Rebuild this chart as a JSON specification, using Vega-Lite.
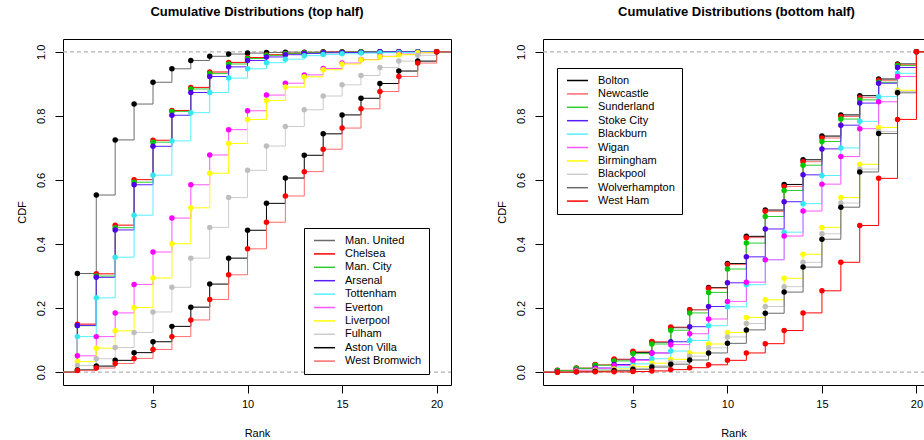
{
"$schema":"https://vega.github.io/schema/vega-lite/v6.json",
"background":"white",
"padding":{"left":15,"top":5,"right":0,"bottom":0},
"spacing":42,
"config":{
 "font":"Liberation Sans",
 "view":{"stroke":"#000","strokeWidth":1},
 "axis":{"grid":false,"domain":false,"tickColor":"#000","tickSize":8,"labelFontSize":11,"titleFontSize":11,"labelColor":"#000","titleColor":"#000","titleFontWeight":"normal","labelFont":"Liberation Sans","titleFont":"Liberation Sans"},
 "title":{"fontSize":13,"fontWeight":"bold","color":"#000","font":"Liberation Sans","offset":20}
},
"resolve":{"scale":{"color":"independent","fill":"independent","x":"independent","y":"independent"},"legend":{"color":"independent"}},
"datasets":{
"top":[
{"team":"Man. United","rank":0,"cdf":0},{"team":"Man. United","rank":1,"cdf":0.308},{"team":"Man. United","rank":2,"cdf":0.553},{"team":"Man. United","rank":3,"cdf":0.725},{"team":"Man. United","rank":4,"cdf":0.837},{"team":"Man. United","rank":5,"cdf":0.905},{"team":"Man. United","rank":6,"cdf":0.947},{"team":"Man. United","rank":7,"cdf":0.973},{"team":"Man. United","rank":8,"cdf":0.986},{"team":"Man. United","rank":9,"cdf":0.993},{"team":"Man. United","rank":10,"cdf":0.996},{"team":"Man. United","rank":11,"cdf":0.998},{"team":"Man. United","rank":12,"cdf":0.999},{"team":"Man. United","rank":13,"cdf":0.999},{"team":"Man. United","rank":14,"cdf":1},{"team":"Man. United","rank":15,"cdf":1},{"team":"Man. United","rank":16,"cdf":1},{"team":"Man. United","rank":17,"cdf":1},{"team":"Man. United","rank":18,"cdf":1},{"team":"Man. United","rank":19,"cdf":1},{"team":"Man. United","rank":20,"cdf":1},{"team":"Man. United","rank":21,"cdf":1},
{"team":"Chelsea","rank":0,"cdf":0},{"team":"Chelsea","rank":1,"cdf":0.150},{"team":"Chelsea","rank":2,"cdf":0.307},{"team":"Chelsea","rank":3,"cdf":0.459},{"team":"Chelsea","rank":4,"cdf":0.601},{"team":"Chelsea","rank":5,"cdf":0.724},{"team":"Chelsea","rank":6,"cdf":0.817},{"team":"Chelsea","rank":7,"cdf":0.889},{"team":"Chelsea","rank":8,"cdf":0.937},{"team":"Chelsea","rank":9,"cdf":0.967},{"team":"Chelsea","rank":10,"cdf":0.982},{"team":"Chelsea","rank":11,"cdf":0.991},{"team":"Chelsea","rank":12,"cdf":0.995},{"team":"Chelsea","rank":13,"cdf":0.998},{"team":"Chelsea","rank":14,"cdf":0.999},{"team":"Chelsea","rank":15,"cdf":0.999},{"team":"Chelsea","rank":16,"cdf":1},{"team":"Chelsea","rank":17,"cdf":1},{"team":"Chelsea","rank":18,"cdf":1},{"team":"Chelsea","rank":19,"cdf":1},{"team":"Chelsea","rank":20,"cdf":1},{"team":"Chelsea","rank":21,"cdf":1},
{"team":"Man. City","rank":0,"cdf":0},{"team":"Man. City","rank":1,"cdf":0.145},{"team":"Man. City","rank":2,"cdf":0.300},{"team":"Man. City","rank":3,"cdf":0.451},{"team":"Man. City","rank":4,"cdf":0.593},{"team":"Man. City","rank":5,"cdf":0.718},{"team":"Man. City","rank":6,"cdf":0.814},{"team":"Man. City","rank":7,"cdf":0.884},{"team":"Man. City","rank":8,"cdf":0.932},{"team":"Man. City","rank":9,"cdf":0.962},{"team":"Man. City","rank":10,"cdf":0.979},{"team":"Man. City","rank":11,"cdf":0.989},{"team":"Man. City","rank":12,"cdf":0.994},{"team":"Man. City","rank":13,"cdf":0.997},{"team":"Man. City","rank":14,"cdf":0.998},{"team":"Man. City","rank":15,"cdf":0.999},{"team":"Man. City","rank":16,"cdf":1},{"team":"Man. City","rank":17,"cdf":1},{"team":"Man. City","rank":18,"cdf":1},{"team":"Man. City","rank":19,"cdf":1},{"team":"Man. City","rank":20,"cdf":1},{"team":"Man. City","rank":21,"cdf":1},
{"team":"Arsenal","rank":0,"cdf":0},{"team":"Arsenal","rank":1,"cdf":0.146},{"team":"Arsenal","rank":2,"cdf":0.296},{"team":"Arsenal","rank":3,"cdf":0.444},{"team":"Arsenal","rank":4,"cdf":0.585},{"team":"Arsenal","rank":5,"cdf":0.705},{"team":"Arsenal","rank":6,"cdf":0.802},{"team":"Arsenal","rank":7,"cdf":0.873},{"team":"Arsenal","rank":8,"cdf":0.923},{"team":"Arsenal","rank":9,"cdf":0.953},{"team":"Arsenal","rank":10,"cdf":0.973},{"team":"Arsenal","rank":11,"cdf":0.984},{"team":"Arsenal","rank":12,"cdf":0.991},{"team":"Arsenal","rank":13,"cdf":0.995},{"team":"Arsenal","rank":14,"cdf":0.997},{"team":"Arsenal","rank":15,"cdf":0.998},{"team":"Arsenal","rank":16,"cdf":0.999},{"team":"Arsenal","rank":17,"cdf":1},{"team":"Arsenal","rank":18,"cdf":1},{"team":"Arsenal","rank":19,"cdf":1},{"team":"Arsenal","rank":20,"cdf":1},{"team":"Arsenal","rank":21,"cdf":1},
{"team":"Tottenham","rank":0,"cdf":0},{"team":"Tottenham","rank":1,"cdf":0.111},{"team":"Tottenham","rank":2,"cdf":0.232},{"team":"Tottenham","rank":3,"cdf":0.359},{"team":"Tottenham","rank":4,"cdf":0.490},{"team":"Tottenham","rank":5,"cdf":0.615},{"team":"Tottenham","rank":6,"cdf":0.722},{"team":"Tottenham","rank":7,"cdf":0.810},{"team":"Tottenham","rank":8,"cdf":0.873},{"team":"Tottenham","rank":9,"cdf":0.918},{"team":"Tottenham","rank":10,"cdf":0.947},{"team":"Tottenham","rank":11,"cdf":0.966},{"team":"Tottenham","rank":12,"cdf":0.977},{"team":"Tottenham","rank":13,"cdf":0.988},{"team":"Tottenham","rank":14,"cdf":0.992},{"team":"Tottenham","rank":15,"cdf":0.994},{"team":"Tottenham","rank":16,"cdf":0.996},{"team":"Tottenham","rank":17,"cdf":0.997},{"team":"Tottenham","rank":18,"cdf":0.998},{"team":"Tottenham","rank":19,"cdf":0.999},{"team":"Tottenham","rank":20,"cdf":1},{"team":"Tottenham","rank":21,"cdf":1},
{"team":"Everton","rank":0,"cdf":0},{"team":"Everton","rank":1,"cdf":0.051},{"team":"Everton","rank":2,"cdf":0.111},{"team":"Everton","rank":3,"cdf":0.185},{"team":"Everton","rank":4,"cdf":0.274},{"team":"Everton","rank":5,"cdf":0.375},{"team":"Everton","rank":6,"cdf":0.481},{"team":"Everton","rank":7,"cdf":0.585},{"team":"Everton","rank":8,"cdf":0.678},{"team":"Everton","rank":9,"cdf":0.757},{"team":"Everton","rank":10,"cdf":0.816},{"team":"Everton","rank":11,"cdf":0.865},{"team":"Everton","rank":12,"cdf":0.902},{"team":"Everton","rank":13,"cdf":0.928},{"team":"Everton","rank":14,"cdf":0.948},{"team":"Everton","rank":15,"cdf":0.965},{"team":"Everton","rank":16,"cdf":0.976},{"team":"Everton","rank":17,"cdf":0.986},{"team":"Everton","rank":18,"cdf":0.993},{"team":"Everton","rank":19,"cdf":0.997},{"team":"Everton","rank":20,"cdf":1},{"team":"Everton","rank":21,"cdf":1},
{"team":"Liverpool","rank":0,"cdf":0},{"team":"Liverpool","rank":1,"cdf":0.033},{"team":"Liverpool","rank":2,"cdf":0.075},{"team":"Liverpool","rank":3,"cdf":0.129},{"team":"Liverpool","rank":4,"cdf":0.202},{"team":"Liverpool","rank":5,"cdf":0.294},{"team":"Liverpool","rank":6,"cdf":0.401},{"team":"Liverpool","rank":7,"cdf":0.513},{"team":"Liverpool","rank":8,"cdf":0.621},{"team":"Liverpool","rank":9,"cdf":0.714},{"team":"Liverpool","rank":10,"cdf":0.789},{"team":"Liverpool","rank":11,"cdf":0.848},{"team":"Liverpool","rank":12,"cdf":0.890},{"team":"Liverpool","rank":13,"cdf":0.922},{"team":"Liverpool","rank":14,"cdf":0.944},{"team":"Liverpool","rank":15,"cdf":0.962},{"team":"Liverpool","rank":16,"cdf":0.975},{"team":"Liverpool","rank":17,"cdf":0.985},{"team":"Liverpool","rank":18,"cdf":0.991},{"team":"Liverpool","rank":19,"cdf":0.997},{"team":"Liverpool","rank":20,"cdf":1},{"team":"Liverpool","rank":21,"cdf":1},
{"team":"Fulham","rank":0,"cdf":0},{"team":"Fulham","rank":1,"cdf":0.021},{"team":"Fulham","rank":2,"cdf":0.042},{"team":"Fulham","rank":3,"cdf":0.077},{"team":"Fulham","rank":4,"cdf":0.124},{"team":"Fulham","rank":5,"cdf":0.188},{"team":"Fulham","rank":6,"cdf":0.265},{"team":"Fulham","rank":7,"cdf":0.356},{"team":"Fulham","rank":8,"cdf":0.452},{"team":"Fulham","rank":9,"cdf":0.545},{"team":"Fulham","rank":10,"cdf":0.630},{"team":"Fulham","rank":11,"cdf":0.706},{"team":"Fulham","rank":12,"cdf":0.767},{"team":"Fulham","rank":13,"cdf":0.819},{"team":"Fulham","rank":14,"cdf":0.862},{"team":"Fulham","rank":15,"cdf":0.897},{"team":"Fulham","rank":16,"cdf":0.926},{"team":"Fulham","rank":17,"cdf":0.951},{"team":"Fulham","rank":18,"cdf":0.971},{"team":"Fulham","rank":19,"cdf":0.989},{"team":"Fulham","rank":20,"cdf":1},{"team":"Fulham","rank":21,"cdf":1},
{"team":"Aston Villa","rank":0,"cdf":0},{"team":"Aston Villa","rank":1,"cdf":0.007},{"team":"Aston Villa","rank":2,"cdf":0.019},{"team":"Aston Villa","rank":3,"cdf":0.037},{"team":"Aston Villa","rank":4,"cdf":0.061},{"team":"Aston Villa","rank":5,"cdf":0.095},{"team":"Aston Villa","rank":6,"cdf":0.143},{"team":"Aston Villa","rank":7,"cdf":0.203},{"team":"Aston Villa","rank":8,"cdf":0.275},{"team":"Aston Villa","rank":9,"cdf":0.356},{"team":"Aston Villa","rank":10,"cdf":0.443},{"team":"Aston Villa","rank":11,"cdf":0.527},{"team":"Aston Villa","rank":12,"cdf":0.606},{"team":"Aston Villa","rank":13,"cdf":0.677},{"team":"Aston Villa","rank":14,"cdf":0.744},{"team":"Aston Villa","rank":15,"cdf":0.803},{"team":"Aston Villa","rank":16,"cdf":0.855},{"team":"Aston Villa","rank":17,"cdf":0.901},{"team":"Aston Villa","rank":18,"cdf":0.940},{"team":"Aston Villa","rank":19,"cdf":0.971},{"team":"Aston Villa","rank":20,"cdf":1},{"team":"Aston Villa","rank":21,"cdf":1},
{"team":"West Bromwich","rank":0,"cdf":0},{"team":"West Bromwich","rank":1,"cdf":0.005},{"team":"West Bromwich","rank":2,"cdf":0.013},{"team":"West Bromwich","rank":3,"cdf":0.027},{"team":"West Bromwich","rank":4,"cdf":0.043},{"team":"West Bromwich","rank":5,"cdf":0.071},{"team":"West Bromwich","rank":6,"cdf":0.111},{"team":"West Bromwich","rank":7,"cdf":0.163},{"team":"West Bromwich","rank":8,"cdf":0.227},{"team":"West Bromwich","rank":9,"cdf":0.304},{"team":"West Bromwich","rank":10,"cdf":0.385},{"team":"West Bromwich","rank":11,"cdf":0.468},{"team":"West Bromwich","rank":12,"cdf":0.550},{"team":"West Bromwich","rank":13,"cdf":0.626},{"team":"West Bromwich","rank":14,"cdf":0.696},{"team":"West Bromwich","rank":15,"cdf":0.762},{"team":"West Bromwich","rank":16,"cdf":0.822},{"team":"West Bromwich","rank":17,"cdf":0.876},{"team":"West Bromwich","rank":18,"cdf":0.923},{"team":"West Bromwich","rank":19,"cdf":0.965},{"team":"West Bromwich","rank":20,"cdf":1},{"team":"West Bromwich","rank":21,"cdf":1}
],
"bottom":[
{"team":"Bolton","rank":0,"cdf":0},{"team":"Bolton","rank":1,"cdf":0.005},{"team":"Bolton","rank":2,"cdf":0.012},{"team":"Bolton","rank":3,"cdf":0.023},{"team":"Bolton","rank":4,"cdf":0.039},{"team":"Bolton","rank":5,"cdf":0.062},{"team":"Bolton","rank":6,"cdf":0.094},{"team":"Bolton","rank":7,"cdf":0.139},{"team":"Bolton","rank":8,"cdf":0.195},{"team":"Bolton","rank":9,"cdf":0.264},{"team":"Bolton","rank":10,"cdf":0.339},{"team":"Bolton","rank":11,"cdf":0.424},{"team":"Bolton","rank":12,"cdf":0.506},{"team":"Bolton","rank":13,"cdf":0.586},{"team":"Bolton","rank":14,"cdf":0.663},{"team":"Bolton","rank":15,"cdf":0.737},{"team":"Bolton","rank":16,"cdf":0.803},{"team":"Bolton","rank":17,"cdf":0.863},{"team":"Bolton","rank":18,"cdf":0.915},{"team":"Bolton","rank":19,"cdf":0.962},{"team":"Bolton","rank":20,"cdf":1},{"team":"Bolton","rank":21,"cdf":1},
{"team":"Newcastle","rank":0,"cdf":0},{"team":"Newcastle","rank":1,"cdf":0.006},{"team":"Newcastle","rank":2,"cdf":0.013},{"team":"Newcastle","rank":3,"cdf":0.024},{"team":"Newcastle","rank":4,"cdf":0.041},{"team":"Newcastle","rank":5,"cdf":0.065},{"team":"Newcastle","rank":6,"cdf":0.096},{"team":"Newcastle","rank":7,"cdf":0.141},{"team":"Newcastle","rank":8,"cdf":0.195},{"team":"Newcastle","rank":9,"cdf":0.262},{"team":"Newcastle","rank":10,"cdf":0.336},{"team":"Newcastle","rank":11,"cdf":0.420},{"team":"Newcastle","rank":12,"cdf":0.502},{"team":"Newcastle","rank":13,"cdf":0.580},{"team":"Newcastle","rank":14,"cdf":0.657},{"team":"Newcastle","rank":15,"cdf":0.731},{"team":"Newcastle","rank":16,"cdf":0.798},{"team":"Newcastle","rank":17,"cdf":0.857},{"team":"Newcastle","rank":18,"cdf":0.911},{"team":"Newcastle","rank":19,"cdf":0.960},{"team":"Newcastle","rank":20,"cdf":1},{"team":"Newcastle","rank":21,"cdf":1},
{"team":"Sunderland","rank":0,"cdf":0},{"team":"Sunderland","rank":1,"cdf":0.005},{"team":"Sunderland","rank":2,"cdf":0.012},{"team":"Sunderland","rank":3,"cdf":0.022},{"team":"Sunderland","rank":4,"cdf":0.035},{"team":"Sunderland","rank":5,"cdf":0.058},{"team":"Sunderland","rank":6,"cdf":0.088},{"team":"Sunderland","rank":7,"cdf":0.131},{"team":"Sunderland","rank":8,"cdf":0.185},{"team":"Sunderland","rank":9,"cdf":0.249},{"team":"Sunderland","rank":10,"cdf":0.322},{"team":"Sunderland","rank":11,"cdf":0.403},{"team":"Sunderland","rank":12,"cdf":0.486},{"team":"Sunderland","rank":13,"cdf":0.567},{"team":"Sunderland","rank":14,"cdf":0.646},{"team":"Sunderland","rank":15,"cdf":0.720},{"team":"Sunderland","rank":16,"cdf":0.790},{"team":"Sunderland","rank":17,"cdf":0.850},{"team":"Sunderland","rank":18,"cdf":0.905},{"team":"Sunderland","rank":19,"cdf":0.957},{"team":"Sunderland","rank":20,"cdf":1},{"team":"Sunderland","rank":21,"cdf":1},
{"team":"Stoke City","rank":0,"cdf":0},{"team":"Stoke City","rank":1,"cdf":0.002},{"team":"Stoke City","rank":2,"cdf":0.006},{"team":"Stoke City","rank":3,"cdf":0.013},{"team":"Stoke City","rank":4,"cdf":0.024},{"team":"Stoke City","rank":5,"cdf":0.039},{"team":"Stoke City","rank":6,"cdf":0.060},{"team":"Stoke City","rank":7,"cdf":0.095},{"team":"Stoke City","rank":8,"cdf":0.142},{"team":"Stoke City","rank":9,"cdf":0.205},{"team":"Stoke City","rank":10,"cdf":0.279},{"team":"Stoke City","rank":11,"cdf":0.360},{"team":"Stoke City","rank":12,"cdf":0.447},{"team":"Stoke City","rank":13,"cdf":0.532},{"team":"Stoke City","rank":14,"cdf":0.616},{"team":"Stoke City","rank":15,"cdf":0.697},{"team":"Stoke City","rank":16,"cdf":0.771},{"team":"Stoke City","rank":17,"cdf":0.840},{"team":"Stoke City","rank":18,"cdf":0.902},{"team":"Stoke City","rank":19,"cdf":0.951},{"team":"Stoke City","rank":20,"cdf":1},{"team":"Stoke City","rank":21,"cdf":1},
{"team":"Blackburn","rank":0,"cdf":0},{"team":"Blackburn","rank":1,"cdf":0.001},{"team":"Blackburn","rank":2,"cdf":0.004},{"team":"Blackburn","rank":3,"cdf":0.009},{"team":"Blackburn","rank":4,"cdf":0.016},{"team":"Blackburn","rank":5,"cdf":0.026},{"team":"Blackburn","rank":6,"cdf":0.042},{"team":"Blackburn","rank":7,"cdf":0.066},{"team":"Blackburn","rank":8,"cdf":0.099},{"team":"Blackburn","rank":9,"cdf":0.145},{"team":"Blackburn","rank":10,"cdf":0.204},{"team":"Blackburn","rank":11,"cdf":0.273},{"team":"Blackburn","rank":12,"cdf":0.351},{"team":"Blackburn","rank":13,"cdf":0.437},{"team":"Blackburn","rank":14,"cdf":0.526},{"team":"Blackburn","rank":15,"cdf":0.614},{"team":"Blackburn","rank":16,"cdf":0.700},{"team":"Blackburn","rank":17,"cdf":0.783},{"team":"Blackburn","rank":18,"cdf":0.860},{"team":"Blackburn","rank":19,"cdf":0.933},{"team":"Blackburn","rank":20,"cdf":1},{"team":"Blackburn","rank":21,"cdf":1},
{"team":"Wigan","rank":0,"cdf":0},{"team":"Wigan","rank":1,"cdf":0.002},{"team":"Wigan","rank":2,"cdf":0.005},{"team":"Wigan","rank":3,"cdf":0.011},{"team":"Wigan","rank":4,"cdf":0.021},{"team":"Wigan","rank":5,"cdf":0.037},{"team":"Wigan","rank":6,"cdf":0.060},{"team":"Wigan","rank":7,"cdf":0.086},{"team":"Wigan","rank":8,"cdf":0.120},{"team":"Wigan","rank":9,"cdf":0.166},{"team":"Wigan","rank":10,"cdf":0.221},{"team":"Wigan","rank":11,"cdf":0.281},{"team":"Wigan","rank":12,"cdf":0.351},{"team":"Wigan","rank":13,"cdf":0.425},{"team":"Wigan","rank":14,"cdf":0.503},{"team":"Wigan","rank":15,"cdf":0.587},{"team":"Wigan","rank":16,"cdf":0.673},{"team":"Wigan","rank":17,"cdf":0.760},{"team":"Wigan","rank":18,"cdf":0.844},{"team":"Wigan","rank":19,"cdf":0.923},{"team":"Wigan","rank":20,"cdf":1},{"team":"Wigan","rank":21,"cdf":1},
{"team":"Birmingham","rank":0,"cdf":0},{"team":"Birmingham","rank":1,"cdf":0.001},{"team":"Birmingham","rank":2,"cdf":0.003},{"team":"Birmingham","rank":3,"cdf":0.006},{"team":"Birmingham","rank":4,"cdf":0.010},{"team":"Birmingham","rank":5,"cdf":0.017},{"team":"Birmingham","rank":6,"cdf":0.028},{"team":"Birmingham","rank":7,"cdf":0.040},{"team":"Birmingham","rank":8,"cdf":0.060},{"team":"Birmingham","rank":9,"cdf":0.088},{"team":"Birmingham","rank":10,"cdf":0.124},{"team":"Birmingham","rank":11,"cdf":0.171},{"team":"Birmingham","rank":12,"cdf":0.226},{"team":"Birmingham","rank":13,"cdf":0.293},{"team":"Birmingham","rank":14,"cdf":0.368},{"team":"Birmingham","rank":15,"cdf":0.452},{"team":"Birmingham","rank":16,"cdf":0.545},{"team":"Birmingham","rank":17,"cdf":0.649},{"team":"Birmingham","rank":18,"cdf":0.764},{"team":"Birmingham","rank":19,"cdf":0.880},{"team":"Birmingham","rank":20,"cdf":1},{"team":"Birmingham","rank":21,"cdf":1},
{"team":"Blackpool","rank":0,"cdf":0},{"team":"Blackpool","rank":1,"cdf":0.001},{"team":"Blackpool","rank":2,"cdf":0.002},{"team":"Blackpool","rank":3,"cdf":0.004},{"team":"Blackpool","rank":4,"cdf":0.007},{"team":"Blackpool","rank":5,"cdf":0.012},{"team":"Blackpool","rank":6,"cdf":0.020},{"team":"Blackpool","rank":7,"cdf":0.032},{"team":"Blackpool","rank":8,"cdf":0.050},{"team":"Blackpool","rank":9,"cdf":0.076},{"team":"Blackpool","rank":10,"cdf":0.110},{"team":"Blackpool","rank":11,"cdf":0.152},{"team":"Blackpool","rank":12,"cdf":0.205},{"team":"Blackpool","rank":13,"cdf":0.267},{"team":"Blackpool","rank":14,"cdf":0.343},{"team":"Blackpool","rank":15,"cdf":0.432},{"team":"Blackpool","rank":16,"cdf":0.528},{"team":"Blackpool","rank":17,"cdf":0.634},{"team":"Blackpool","rank":18,"cdf":0.751},{"team":"Blackpool","rank":19,"cdf":0.876},{"team":"Blackpool","rank":20,"cdf":1},{"team":"Blackpool","rank":21,"cdf":1},
{"team":"Wolverhampton","rank":0,"cdf":0},{"team":"Wolverhampton","rank":1,"cdf":0.0005},{"team":"Wolverhampton","rank":2,"cdf":0.001},{"team":"Wolverhampton","rank":3,"cdf":0.003},{"team":"Wolverhampton","rank":4,"cdf":0.005},{"team":"Wolverhampton","rank":5,"cdf":0.009},{"team":"Wolverhampton","rank":6,"cdf":0.016},{"team":"Wolverhampton","rank":7,"cdf":0.025},{"team":"Wolverhampton","rank":8,"cdf":0.038},{"team":"Wolverhampton","rank":9,"cdf":0.060},{"team":"Wolverhampton","rank":10,"cdf":0.090},{"team":"Wolverhampton","rank":11,"cdf":0.132},{"team":"Wolverhampton","rank":12,"cdf":0.184},{"team":"Wolverhampton","rank":13,"cdf":0.250},{"team":"Wolverhampton","rank":14,"cdf":0.328},{"team":"Wolverhampton","rank":15,"cdf":0.415},{"team":"Wolverhampton","rank":16,"cdf":0.515},{"team":"Wolverhampton","rank":17,"cdf":0.625},{"team":"Wolverhampton","rank":18,"cdf":0.745},{"team":"Wolverhampton","rank":19,"cdf":0.872},{"team":"Wolverhampton","rank":20,"cdf":1},{"team":"Wolverhampton","rank":21,"cdf":1},
{"team":"West Ham","rank":0,"cdf":0},{"team":"West Ham","rank":1,"cdf":0},{"team":"West Ham","rank":2,"cdf":0.001},{"team":"West Ham","rank":3,"cdf":0.001},{"team":"West Ham","rank":4,"cdf":0.001},{"team":"West Ham","rank":5,"cdf":0.002},{"team":"West Ham","rank":6,"cdf":0.004},{"team":"West Ham","rank":7,"cdf":0.008},{"team":"West Ham","rank":8,"cdf":0.014},{"team":"West Ham","rank":9,"cdf":0.023},{"team":"West Ham","rank":10,"cdf":0.037},{"team":"West Ham","rank":11,"cdf":0.060},{"team":"West Ham","rank":12,"cdf":0.089},{"team":"West Ham","rank":13,"cdf":0.130},{"team":"West Ham","rank":14,"cdf":0.185},{"team":"West Ham","rank":15,"cdf":0.254},{"team":"West Ham","rank":16,"cdf":0.343},{"team":"West Ham","rank":17,"cdf":0.458},{"team":"West Ham","rank":18,"cdf":0.605},{"team":"West Ham","rank":19,"cdf":0.789},{"team":"West Ham","rank":20,"cdf":1},{"team":"West Ham","rank":21,"cdf":1}
],
"refs":[{"level":0},{"level":1}]
},
"hconcat":[
{
 "width":388,"height":346,
 "title":{"text":"Cumulative Distributions (top half)"},
 "encoding":{
  "x":{"field":"rank","type":"quantitative","title":"Rank","scale":{"domain":[0.24,20.76],"nice":false,"zero":false},"axis":{"values":[5,10,15,20],"labelPadding":5,"titlePadding":18}},
  "y":{"field":"cdf","type":"quantitative","title":"CDF","scale":{"domain":[-0.04,1.04],"nice":false,"zero":false},"axis":{"values":[0,0.2,0.4,0.6,0.8,1],"format":".1f","labelAngle":-90,"labelAlign":"center","labelBaseline":"bottom","labelPadding":9,"titlePadding":8}}
 },
 "layer":[
  {"data":{"name":"refs"},"mark":{"type":"rule","color":"#b3b3b3","strokeDash":[4,3],"strokeWidth":1.2},"encoding":{"y":{"field":"level","type":"quantitative"},"x":{"value":0},"x2":{"value":388}}},
  {"data":{"name":"top"},"mark":{"type":"line","interpolate":"step-after","strokeWidth":1,"clip":true},
   "encoding":{"color":{"field":"team","type":"nominal","scale":{"domain":["Man. United","Chelsea","Man. City","Arsenal","Tottenham","Everton","Liverpool","Fulham","Aston Villa","West Bromwich"],"range":["#6b6b6b","#ff0000","#2ecc2e","#5a1eff","#55f0ff","#ff55ff","#ffff00","#cccccc","#000000","#ff6b6b"]},
    "legend":{"orient":"none","legendX":241,"legendY":189,"title":null,"strokeColor":"#000","fillColor":"#fff","padding":7,"symbolOffset":8,"cornerRadius":0,"labelFontSize":11,"labelColor":"#000","labelOffset":15,"symbolType":"M-2.33,0H2.33","symbolSize":81,"symbolStrokeWidth":1.5,"rowPadding":1.4,"labelLimit":200}}}},
  {"data":{"name":"top"},"transform":[{"filter":"datum.rank >= 1 && datum.rank <= 20"}],"mark":{"type":"point","shape":"circle","filled":true,"size":30,"opacity":1},
   "encoding":{"fill":{"field":"team","type":"nominal","scale":{"domain":["Man. United","Chelsea","Man. City","Arsenal","Tottenham","Everton","Liverpool","Fulham","Aston Villa","West Bromwich"],"range":["#000000","#ff0000","#00c800","#5200e8","#33e8f0","#ff00ff","#ffff00","#bebebe","#000000","#ff0000"]},"legend":null}}}
 ]
},
{
 "width":381,"height":346,
 "title":{"text":"Cumulative Distributions (bottom half)","dx":3},
 "encoding":{
  "x":{"field":"rank","type":"quantitative","title":"Rank","scale":{"domain":[0.24,20.4],"nice":false,"zero":false},"axis":{"values":[5,10,15,20],"labelPadding":5,"titlePadding":18}},
  "y":{"field":"cdf","type":"quantitative","title":"CDF","scale":{"domain":[-0.04,1.04],"nice":false,"zero":false},"axis":{"values":[0,0.2,0.4,0.6,0.8,1],"format":".1f","labelAngle":-90,"labelAlign":"center","labelBaseline":"bottom","labelPadding":9,"titlePadding":8}}
 },
 "layer":[
  {"data":{"name":"refs"},"mark":{"type":"rule","color":"#b3b3b3","strokeDash":[4,3],"strokeWidth":1.2},"encoding":{"y":{"field":"level","type":"quantitative"},"x":{"value":0},"x2":{"value":381}}},
  {"data":{"name":"bottom"},"mark":{"type":"line","interpolate":"step-after","strokeWidth":1,"clip":true},
   "encoding":{"color":{"field":"team","type":"nominal","scale":{"domain":["Bolton","Newcastle","Sunderland","Stoke City","Blackburn","Wigan","Birmingham","Blackpool","Wolverhampton","West Ham"],"range":["#000000","#ff6b6b","#2ecc2e","#5a1eff","#55f0ff","#ff55ff","#ffff00","#cccccc","#6b6b6b","#ff0000"]},
    "legend":{"orient":"none","legendX":14,"legendY":29,"title":null,"strokeColor":"#000","fillColor":"#fff","padding":7,"symbolOffset":8,"cornerRadius":0,"labelFontSize":11,"labelColor":"#000","labelOffset":15,"symbolType":"M-2.33,0H2.33","symbolSize":81,"symbolStrokeWidth":1.5,"rowPadding":1.4,"labelLimit":200}}}},
  {"data":{"name":"bottom"},"transform":[{"filter":"datum.rank >= 1 && datum.rank <= 20"}],"mark":{"type":"point","shape":"circle","filled":true,"size":30,"opacity":1},
   "encoding":{"fill":{"field":"team","type":"nominal","scale":{"domain":["Bolton","Newcastle","Sunderland","Stoke City","Blackburn","Wigan","Birmingham","Blackpool","Wolverhampton","West Ham"],"range":["#000000","#ff0000","#00c800","#5200e8","#33e8f0","#ff00ff","#ffff00","#bebebe","#000000","#ff0000"]},"legend":null}}}
 ]
}
]
}
